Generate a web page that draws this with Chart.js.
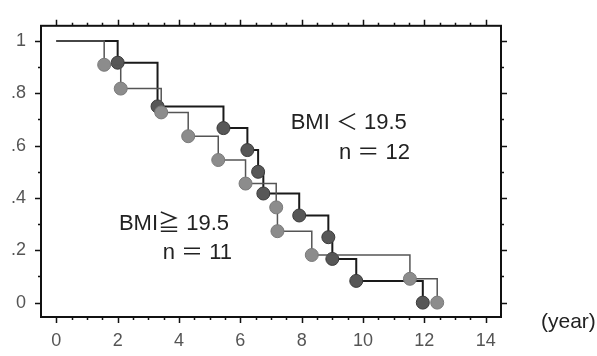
<!DOCTYPE html>
<html>
<head>
<meta charset="utf-8">
<script src="https://cdn.jsdelivr.net/npm/chart.js@4.4.1/dist/chart.umd.min.js"></script>
<style>
html,body{margin:0;padding:0;background:#fff;}
#c{display:block;}
</style>
</head>
<body>
<canvas id="c" width="597" height="356"></canvas>
<script>
// Kaplan-Meier curves (time in years, survival proportion)
const lowBmiTimes = [0, 2.0, 3.3, 5.45, 6.23, 6.58, 6.75, 7.92, 8.87, 9.0, 9.78, 11.95];
const lowBmiSurv  = [1, 0.917, 0.75, 0.667, 0.583, 0.5, 0.417, 0.333, 0.25, 0.167, 0.083, 0];
const highBmiTimes = [0, 1.56, 2.1, 3.42, 4.3, 5.28, 6.17, 7.17, 7.21, 8.33, 11.53, 12.42];
const highBmiSurv  = [1, 0.909, 0.818, 0.727, 0.636, 0.545, 0.455, 0.364, 0.273, 0.182, 0.091, 0];

const xTicks = [0, 2, 4, 6, 8, 10, 12, 14];
const yTicks = [0, 0.2, 0.4, 0.6, 0.8, 1];
const yTickLabels = ['0', '.2', '.4', '.6', '.8', '1'];

const lowLabel = ['BMI ＜ 19.5', 'n ＝ 12'];
const highLabel = ['BMI≧ 19.5', 'n ＝ 11'];
const xUnit = '(year)';

const toPts = (t, s) => t.map((v, i) => ({x: v, y: s[i]}));
const hideFirst = ctx => ctx.dataIndex === 0 ? 0 : 6.5;

const framePlugin = {
  id: 'frame',
  afterDatasetsDraw(chart) {
    const {ctx, chartArea: a, scales} = chart;
    const xs = scales.x, ys = scales.y;
    ctx.save();
    ctx.strokeStyle = '#111';
    ctx.lineWidth = 2;
    ctx.strokeRect(a.left, a.top, a.right - a.left, a.bottom - a.top);
    ctx.lineWidth = 1.5;
    ctx.beginPath();
    for (let v = 0; v <= 14.001; v += 0.5) {
      const p = Math.round(xs.getPixelForValue(v)) + 0.5;
      const major = Math.abs(v / 2 - Math.round(v / 2)) < 1e-6;
      const len = major ? 6 : 3;
      ctx.moveTo(p, a.bottom); ctx.lineTo(p, a.bottom + len);
      ctx.moveTo(p, a.top); ctx.lineTo(p, a.top - len);
    }
    for (let i = 0; i <= 10; i++) {
      const v = i / 10;
      const p = Math.round(ys.getPixelForValue(v)) + 0.5;
      const len = (i % 2 === 0) ? 6 : 3;
      ctx.moveTo(a.left, p); ctx.lineTo(a.left - len, p);
      ctx.moveTo(a.right, p); ctx.lineTo(a.right + len, p);
    }
    ctx.stroke();

    ctx.fillStyle = '#222';
    ctx.font = '22px "Liberation Sans", "Noto Sans CJK JP", sans-serif';
    ctx.textAlign = 'right';
    ctx.textBaseline = 'middle';
    ctx.fillText(lowLabel[0], xs.getPixelForValue(11.43), ys.getPixelForValue(0.688));
    ctx.fillText(lowLabel[1], xs.getPixelForValue(11.53), ys.getPixelForValue(0.571));
    ctx.fillText(highLabel[0], xs.getPixelForValue(5.63), ys.getPixelForValue(0.302));
    ctx.fillText(highLabel[1], xs.getPixelForValue(5.73), ys.getPixelForValue(0.189));
    ctx.font = '21px "Liberation Sans", sans-serif';
    ctx.textAlign = 'left';
    ctx.fillText(xUnit, a.right + 40, a.bottom + 5);
    ctx.restore();
  }
};

new Chart(document.getElementById('c'), {
  type: 'scatter',
  data: {
    datasets: [
      {
        label: 'BMI≧19.5',
        data: toPts(highBmiTimes, highBmiSurv),
        showLine: true,
        stepped: 'before',
        borderColor: '#555',
        borderWidth: 1.5,
        pointRadius: hideFirst,
        pointBackgroundColor: '#8c8c8c',
        pointBorderColor: '#7a7a7a',
        pointBorderWidth: 1,
        clip: false
      },
      {
        label: 'BMI<19.5',
        data: toPts(lowBmiTimes, lowBmiSurv),
        showLine: true,
        stepped: 'before',
        borderColor: '#1a1a1a',
        borderWidth: 2,
        pointRadius: hideFirst,
        pointBackgroundColor: '#575757',
        pointBorderColor: '#3a3a3a',
        pointBorderWidth: 1,
        clip: false
      }
    ]
  },
  options: {
    responsive: false,
    animation: false,
    devicePixelRatio: 1,
    layout: {padding: {top: 11, right: 96, left: 0, bottom: 0}},
    plugins: {legend: {display: false}, tooltip: {enabled: false}},
    scales: {
      x: {
        type: 'linear',
        min: -0.5,
        max: 14.5,
        grid: {display: false, drawTicks: false},
        border: {display: false},
        afterBuildTicks: s => { s.ticks = xTicks.map(v => ({value: v})); },
        afterFit: s => { s.height = 39; },
        ticks: {
          padding: 13,
          color: '#555',
          font: {family: '"Liberation Sans Narrow", "Liberation Sans", sans-serif', size: 18},
          maxRotation: 0,
          autoSkip: false,
          callback: v => String(v)
        }
      },
      y: {
        type: 'linear',
        min: -0.055,
        max: 1.058,
        grid: {display: false, drawTicks: false},
        border: {display: false},
        afterBuildTicks: s => { s.ticks = yTicks.map(v => ({value: v})); },
        afterFit: s => { s.width = 41; },
        ticks: {
          padding: 15,
          color: '#555',
          font: {family: '"Liberation Sans Narrow", "Liberation Sans", sans-serif', size: 18},
          autoSkip: false,
          callback: v => { const i = yTicks.findIndex(t => Math.abs(t - v) < 1e-6); return i >= 0 ? yTickLabels[i] : ''; }
        }
      }
    }
  },
  plugins: [framePlugin]
});
</script>
</body>
</html>
